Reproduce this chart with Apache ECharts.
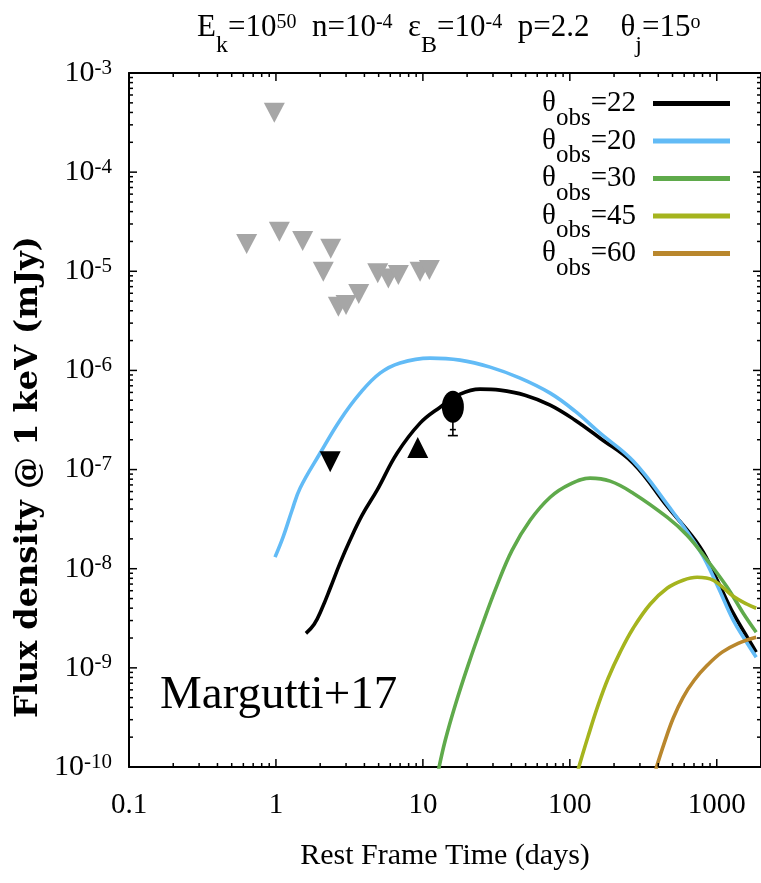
<!DOCTYPE html>
<html>
<head>
<meta charset="utf-8">
<script src="https://cdn.jsdelivr.net/npm/echarts@6/dist/echarts.min.js"></script>
<style>
  html, body { margin: 0; padding: 0; background: #fff; }
  #chart { width: 761px; height: 883px; }
</style>
</head>
<body>
<div id="chart"></div>
<script>
// Afterglow model light curves: [rest-frame time (days), flux density at 1 keV (mJy)]
const curveObs22 = [[1.60,2.23e-9],[1.82,2.75e-9],[2.06,3.99e-9],[2.34,6.35e-9],[2.73,1.14e-8],[3.19,1.94e-8],[3.86,3.47e-8],[4.88,6.2e-8],[6.67,1.46e-7],[9.57,2.94e-7],[13.1,4.26e-7],[17.9,5.77e-7],[24.5,6.48e-7],[33.5,6.33e-7],[49.6,5.63e-7],[73.5,4.47e-7],[108.6,3.15e-7],[160.7,2.07e-7],[269.8,1.16e-7],[459,4.27e-8],[771,1.65e-8],[1007,7.65e-9],[1294,3.56e-9],[1612,2.04e-9],[1855,1.44e-9]];
const curveObs20 = [[0.986,1.31e-8],[1.118,2.08e-8],[1.287,3.89e-8],[1.459,6.49e-8],[1.996,1.46e-7],[2.73,3.15e-7],[3.74,5.9e-7],[5.11,9.39e-7],[7.0,1.19e-6],[11.2,1.33e-6],[17.9,1.27e-6],[28.7,1.08e-6],[45.9,8.36e-7],[73.5,5.9e-7],[108.6,3.88e-7],[160.7,2.33e-7],[269.8,1.22e-7],[459,4.48e-8],[771,1.5e-8],[1007,6.82e-9],[1294,3.02e-9],[1612,1.77e-9],[1855,1.28e-9]];
const curveObs30 = [[12.8,9.5e-11],[14.2,1.86e-10],[16.6,4.2e-10],[20.3,1.06e-9],[25.3,2.69e-9],[32.0,6.82e-9],[40.5,1.54e-8],[53.7,3.08e-8],[73.5,5.26e-8],[100.5,7.13e-8],[137.4,8.19e-8],[188,7.64e-8],[269.8,5.78e-8],[459,3.31e-8],[628,2.18e-8],[861,1.22e-8],[1178,6.5e-9],[1514,3.56e-9],[1855,2.29e-9]];
const curveObs45 = [[114,9.5e-11],[133.2,2.04e-10],[155.8,4.2e-10],[182.3,7.85e-10],[220,1.44e-9],[269.8,2.51e-9],[352,4.38e-9],[459,6.35e-9],[590,7.65e-9],[735,8.2e-9],[946,7.65e-9],[1294,5.27e-9],[1612,4.38e-9],[1855,3.99e-9]];
const curveObs60 = [[385,9.5e-11],[438.5,1.73e-10],[505,3.1e-10],[590,5.05e-10],[702,7.5e-10],[861,1.06e-9],[1088,1.44e-9],[1399,1.77e-9],[1855,2.04e-9]];

// Observations
const grayUpperLimits = [[0.975,3.98e-4],[0.632,1.88e-5],[1.055,2.5e-5],[1.52,2.02e-5],[2.36,1.69e-5],[2.10,9.9e-6],[2.66,4.38e-6],[3.0,4.56e-6],[3.66,5.89e-6],[4.93,9.53e-6],[5.82,8.48e-6],[6.81,9.16e-6],[9.57,9.9e-6],[11.07,1.03e-5]];
const blackUpperLimits = [[2.34,1.2e-7]];
const blackLowerLimits = [[9.23,1.67e-7]];
const detections = [[16,4.3e-7]];
const detectionErrors = [[16,2.2e-7,5.5e-7]]; // [t, low, high]

// Axis ranges and tick labels
const xMin = 0.1, xMax = 2000;
const yMin = 1e-10, yMax = 1e-3;
const xTickLabels = ['0.1', '1', '10', '100', '1000'];
const yTickExponents = [-10, -9, -8, -7, -6, -5, -4, -3];

const seriesNames = ['θobs=22', 'θobs=20', 'θobs=30', 'θobs=45', 'θobs=60'];
const seriesColors = ['#000000', '#62bbf6', '#5faa4b', '#a5b41e', '#b9872d'];
const curves = [curveObs22, curveObs20, curveObs30, curveObs45, curveObs60];

const FONT = '"Liberation Serif", "DejaVu Serif", serif';

// tick positions on a log range: decades, and 2..9 within each decade
function decadeTicks(lo, hi) {
  const out = [];
  for (let e = Math.ceil(Math.log10(lo) - 1e-9); e <= Math.floor(Math.log10(hi) + 1e-9); e++) out.push(Math.pow(10, e));
  return out;
}
function minorTicks(lo, hi) {
  const out = [];
  for (let e = Math.floor(Math.log10(lo) + 1e-9); e < Math.ceil(Math.log10(hi) - 1e-9); e++) {
    for (let m = 2; m <= 9; m++) {
      const v = m * Math.pow(10, e);
      if (v > lo && v < hi) out.push(v);
    }
  }
  return out;
}

// frame tick marks as small rectangles anchored on the axes' edges
const TICK_W = 1.5;
function frameTickData() {
  const items = [];
  const xs = decadeTicks(xMin, xMax).map(v => [v, 8]).concat(minorTicks(xMin, xMax).map(v => [v, 4]));
  const ys = decadeTicks(yMin, yMax).map(v => [v, 8]).concat(minorTicks(yMin, yMax).map(v => [v, 4]));
  xs.forEach(([v, len]) => {
    items.push({ value: [v, yMin], symbolSize: [TICK_W, len], symbolOffset: [0, -len / 2] });
    items.push({ value: [v, yMax], symbolSize: [TICK_W, len], symbolOffset: [0, len / 2] });
  });
  ys.forEach(([v, len]) => {
    items.push({ value: [xMin, v], symbolSize: [len, TICK_W], symbolOffset: [len / 2, 0] });
    items.push({ value: [xMax, v], symbolSize: [len, TICK_W], symbolOffset: [-len / 2, 0] });
  });
  return items;
}

const chart = echarts.init(document.getElementById('chart'), null, { renderer: 'canvas' });

const axisLineStyle = { color: '#000', width: 2 };

function isDecade(v) {
  const l = Math.log10(v);
  return Math.abs(l - Math.round(l)) < 1e-6;
}

const lineSeries = curves.map((c, i) => ({
  name: seriesNames[i],
  type: 'line',
  data: c,
  showSymbol: false,
  smooth: 0.4,
  lineStyle: { color: seriesColors[i], width: 3.6 },
  itemStyle: { color: seriesColors[i] },
  z: 3,
  silent: true
}));

const txt = (size, extra) => Object.assign({ fontFamily: FONT, fontSize: size, color: '#000', fontWeight: 'normal' }, extra || {});

const option = {
  backgroundColor: '#fff',
  animation: false,
  title: {
    left: 197, top: 3, padding: 0,
    text: '{m|E}{sb|k}{m|=10}{sp|50}{m|  n=10}{sp|-4}{m|  ε}{sb|B}{m|=10}{sp|-4}{m|  p=2.2    θ}{sb|j}{m|=15}{sp|o}',
    textStyle: {
      fontWeight: 'normal',
      rich: {
        m: txt(31, { lineHeight: 50 }),
        sb: txt(24, { lineHeight: 14, height: 14, verticalAlign: 'bottom' }),
        sp: txt(20, { lineHeight: 40, height: 40, verticalAlign: 'top' })
      }
    }
  },
  legend: {
    orient: 'vertical',
    right: 26, top: 84,
    align: 'right',
    icon: 'rect',
    itemWidth: 77, itemHeight: 5,
    itemGap: -4,
    data: seriesNames,
    formatter: n => '{t|θ}{s|obs}{e|=' + n.split('=')[1] + '}',
    textStyle: {
      rich: {
        t: txt(29, { lineHeight: 36 }),
        s: txt(25, { lineHeight: 7, height: 7, verticalAlign: 'bottom' }),
        e: txt(29, { lineHeight: 36, padding: [0, 12, 0, 0] })
      }
    }
  },
  grid: { left: 129, top: 73, width: 632, height: 694, containLabel: false },
  xAxis: [{
    type: 'log', logBase: 10, min: xMin, max: xMax, position: 'bottom',
    splitNumber: 5,
    name: 'Rest Frame Time (days)', nameLocation: 'middle', nameGap: 74,
    nameTextStyle: txt(30),
    axisLine: { show: true, lineStyle: axisLineStyle },
    axisTick: { show: false },
    axisLabel: {
      margin: 24, fontFamily: FONT, fontSize: 29, color: '#000',
      showMaxLabel: false,
      formatter: v => {
        if (!isDecade(v)) return '';
        const idx = Math.round(Math.log10(v)) + 1;
        return xTickLabels[idx] !== undefined ? xTickLabels[idx] : '';
      }
    },
    splitLine: { show: false }
  }, {
    type: 'log', logBase: 10, min: xMin, max: xMax, position: 'top',
    splitNumber: 5,
    axisLine: { show: true, lineStyle: axisLineStyle },
    axisTick: { show: false },
    axisLabel: { show: false },
    splitLine: { show: false }
  }],
  yAxis: [{
    type: 'log', logBase: 10, min: yMin, max: yMax, position: 'left',
    splitNumber: 7,
    axisLine: { show: true, lineStyle: axisLineStyle },
    axisTick: { show: false },
    axisLabel: {
      margin: 17,
      formatter: v => {
        const e = Math.round(Math.log10(v));
        if (!isDecade(v) || yTickExponents.indexOf(e) < 0) return '';
        return '{b|10}{s|' + e + '}';
      },
      rich: {
        b: txt(30, { lineHeight: 32 }),
        s: txt(21, { lineHeight: 22, height: 22, verticalAlign: 'top' })
      }
    },
    splitLine: { show: false }
  }, {
    type: 'log', logBase: 10, min: yMin, max: yMax, position: 'right',
    splitNumber: 7,
    axisLine: { show: true, lineStyle: axisLineStyle },
    axisTick: { show: false },
    axisLabel: { show: false },
    splitLine: { show: false }
  }],
  graphic: [{
    type: 'text', left: 160, top: 672, z: 10,
    style: { text: 'Margutti+17', font: '47px ' + FONT, fill: '#000' }
  }, {
    // vertical axis title
    type: 'text', x: 29, y: 477, rotation: Math.PI / 2, z: 10,
    style: {
      text: 'Flux density @ 1 keV (mJy)',
      font: 'bold 32px "DejaVu Serif", "Liberation Serif", serif',
      fill: '#000', align: 'center', verticalAlign: 'middle'
    }
  }],
  series: [
    ...lineSeries,
    {
      type: 'scatter', data: frameTickData(), symbol: 'rect', clip: false,
      itemStyle: { color: '#000', opacity: 1 }, z: 20, silent: true
    },
    {
      type: 'scatter', data: grayUpperLimits, symbol: 'triangle', symbolRotate: 180,
      symbolSize: [21, 20], itemStyle: { color: '#a6a6a6', opacity: 1 }, z: 7, silent: true
    },
    {
      type: 'scatter', data: blackUpperLimits, symbol: 'triangle', symbolRotate: 180,
      symbolSize: [21, 21], itemStyle: { color: '#000', opacity: 1 }, z: 7, silent: true
    },
    {
      type: 'scatter', data: blackLowerLimits, symbol: 'triangle',
      symbolSize: [21, 21], itemStyle: { color: '#000', opacity: 1 }, z: 7, silent: true
    },
    {
      type: 'custom', silent: true, z: 7,
      data: detectionErrors,
      renderItem: (params, api) => {
        const x = api.value(0);
        const lo = api.coord([x, api.value(1)]);
        const hi = api.coord([x, api.value(2)]);
        const st = { stroke: '#000', lineWidth: 1.6 };
        return { type: 'group', children: [
          { type: 'line', shape: { x1: lo[0], y1: lo[1], x2: hi[0], y2: hi[1] }, style: st },
          { type: 'line', shape: { x1: lo[0] - 5, y1: lo[1], x2: lo[0] + 5, y2: lo[1] }, style: st },
          { type: 'line', shape: { x1: lo[0] - 3, y1: lo[1] - 6, x2: lo[0] + 3, y2: lo[1] - 6 }, style: st }
        ] };
      }
    },
    {
      type: 'scatter', data: detections, symbol: 'circle',
      symbolSize: [22, 32], itemStyle: { color: '#000', opacity: 1 }, z: 8, silent: true
    }
  ]
};

chart.setOption(option);
</script>
</body>
</html>
